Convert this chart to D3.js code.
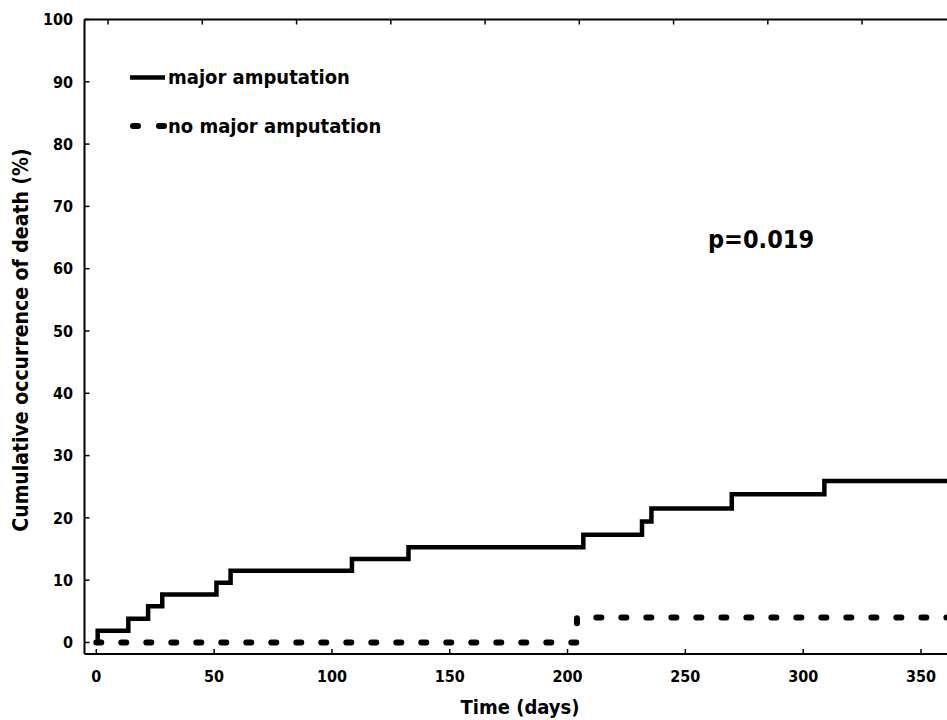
<!DOCTYPE html>
<html>
<head>
<meta charset="utf-8">
<script src="https://cdn.jsdelivr.net/npm/d3@7"></script>
<style>
  html, body { margin: 0; padding: 0; background: #fff; }
  text { font-family: "DejaVu Sans Condensed", "DejaVu Sans", sans-serif; font-weight: bold; fill: #000; }
</style>
</head>
<body>
<svg width="947" height="720"></svg>
<script>
// major amputation: cumulative occurrence of death (%)
const majorDays = [0, 0.6, 13.6, 22, 28, 51, 57, 108.5, 132.5, 206.7, 231.6, 235.6, 269.7, 309, 372];
const majorPct = [0, 1.9, 3.8, 5.8, 7.7, 9.6, 11.5, 13.4, 15.3, 17.3, 19.4, 21.5, 23.8, 25.9, 25.9];
// no major amputation
const noMajorDays = [0, 204, 372];
const noMajorPct = [0, 4.0, 4.0];

const xTicks = [0, 50, 100, 150, 200, 250, 300, 350];
const yTicks = [0, 10, 20, 30, 40, 50, 60, 70, 80, 90, 100];
const topTicks = [5, 45, 85, 125, 165, 205, 245, 285, 325];

const svg = d3.select("svg");

const x = d3.scaleLinear().domain([-5, 370]).range([84.5, 84.5 + 375 * 2.3563]);
const y = d3.scaleLinear().domain([-1.85, 100]).range([654, 19.5]);

// frame
const frame = svg.append("g").attr("stroke", "#000").attr("stroke-width", 2).attr("fill", "none");
frame.append("line").attr("x1", x(-5)).attr("x2", 960).attr("y1", y(100)).attr("y2", y(100));
frame.append("line").attr("x1", x(-5)).attr("x2", 960).attr("y1", y(-1.85)).attr("y2", y(-1.85));
frame.append("line").attr("x1", x(-5)).attr("x2", x(-5)).attr("y1", y(100)).attr("y2", y(-1.85));

// ticks
const tk = svg.append("g").attr("stroke", "#000").attr("stroke-width", 1.5);
tk.selectAll(".bt").data(xTicks).enter().append("line")
  .attr("x1", d => x(d)).attr("x2", d => x(d))
  .attr("y1", y(-1.85)).attr("y2", y(-1.85) - 5);
tk.selectAll(".tt").data(topTicks).enter().append("line")
  .attr("x1", d => x(d)).attr("x2", d => x(d))
  .attr("y1", y(100)).attr("y2", y(100) + 5);
tk.selectAll(".lt").data(yTicks).enter().append("line")
  .attr("x1", x(-5)).attr("x2", x(-5) + 5)
  .attr("y1", d => y(d)).attr("y2", d => y(d));

// tick labels
svg.append("g").selectAll("text").data(xTicks).enter().append("text")
  .attr("x", d => x(d)).attr("y", 682)
  .attr("text-anchor", "middle").attr("font-size", 16)
  .text(d => d);
svg.append("g").selectAll("text").data(yTicks).enter().append("text")
  .attr("x", 73).attr("y", d => y(d)).attr("dy", "0.36em")
  .attr("text-anchor", "end").attr("font-size", 16)
  .text(d => d);

// axis titles
svg.append("text").attr("x", 520).attr("y", 714)
  .attr("text-anchor", "middle").attr("font-size", 20)
  .text("Time (days)");
svg.append("text")
  .attr("transform", `translate(28,340) rotate(-90)`)
  .attr("text-anchor", "middle").attr("font-size", 21)
  .text("Cumulative occurrence of death (%)");

// curves
const line = d3.line().x(d => x(d[0])).y(d => y(d[1])).curve(d3.curveStepAfter);

svg.append("path")
  .datum(noMajorDays.map((d, i) => [d, noMajorPct[i]]))
  .attr("d", line)
  .attr("fill", "none").attr("stroke", "#000")
  .attr("stroke-width", 6).attr("stroke-linecap", "round")
  .attr("stroke-dasharray", "5,20");

svg.append("path")
  .datum(majorDays.map((d, i) => [d, majorPct[i]]))
  .attr("d", line)
  .attr("fill", "none").attr("stroke", "#000")
  .attr("stroke-width", 4.5).attr("stroke-linejoin", "miter");

// legend
svg.append("line").attr("x1", 130).attr("x2", 165).attr("y1", 77.5).attr("y2", 77.5)
  .attr("stroke", "#000").attr("stroke-width", 4.5);
svg.append("line").attr("x1", 133).attr("x2", 165).attr("y1", 126).attr("y2", 126)
  .attr("stroke", "#000").attr("stroke-width", 6).attr("stroke-linecap", "round")
  .attr("stroke-dasharray", "5,21");
svg.append("text").attr("x", 168).attr("y", 84).attr("font-size", 20).text("major amputation");
svg.append("text").attr("x", 168).attr("y", 133).attr("font-size", 20).text("no major amputation");

// p value
svg.append("text").attr("x", 708).attr("y", 248).attr("font-size", 25).text("p=0.019");
</script>
</body>
</html>
